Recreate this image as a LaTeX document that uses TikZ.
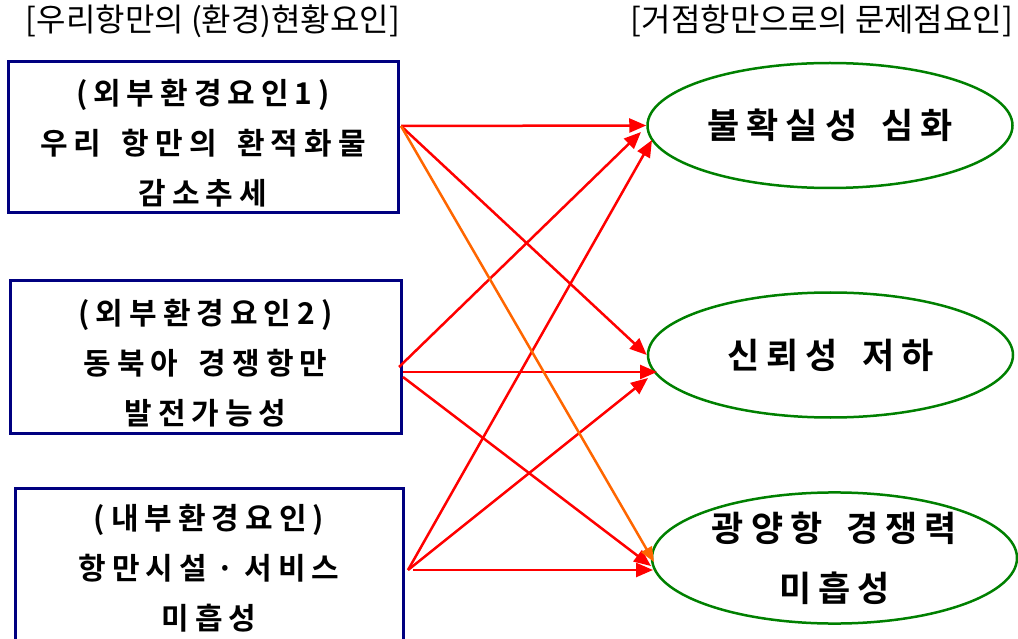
\documentclass[tikz,border=0pt]{standalone}
\usepackage{fontspec}
\usetikzlibrary{arrows.meta,shapes.geometric}
\newfontfamily\krhead{Noto Sans CJK KR}
\newfontfamily\krbox{Noto Sans CJK KR Bold}[LetterSpace=20,WordSpace=2]
\newfontfamily\krell{Noto Sans CJK KR Bold}[LetterSpace=20,WordSpace=1.6]
\definecolor{navybox}{RGB}{0,0,128}
\definecolor{greenell}{RGB}{0,128,0}
\definecolor{orangearr}{RGB}{255,102,0}
\tikzset{
  box/.style={draw=navybox, line width=3pt, fill=none, rectangle, inner sep=0pt},
  boxtext/.style={align=center, inner sep=0pt, font=\krbox\fontsize{30pt}{50pt}\selectfont},
  ell/.style={draw=greenell, line width=2.5pt, ellipse, inner sep=0pt, minimum width=365pt, minimum height=125pt, align=center, font=\krell\fontsize{35pt}{60pt}\selectfont},
  head/.style={inner sep=0pt, font=\krhead\fontsize{32pt}{38pt}\selectfont},
  arr/.style={draw=red, line width=2.5pt, -{Triangle[length=17pt,width=14pt]}},
  oarr/.style={draw=orangearr, line width=2.5pt, -{Triangle[length=15pt,width=12pt]}}
}
\begin{document}
\begin{tikzpicture}[x=1pt,y=-1pt]
\useasboundingbox (0,0) rectangle (1018,639);
\clip (0,0) rectangle (1018,639);
% headers
\node[head] (h1) at (213,21) {[우리항만의 (환경)현황요인]};
\node[head] (h2) at (822,21) {[거점항만으로의 문제점요인]};
% boxes
\node[box, minimum width=390pt, minimum height=151pt] (b1) at (203,137.5) {};
\node[boxtext] (b1t) at (203,143) {(외부환경요인1)\\우리 항만의 환적화물\\감소추세};
\node[box, minimum width=391pt, minimum height=152pt] (b2) at (205.5,357) {};
\node[boxtext] (b2t) at (205.5,363) {(외부환경요인2)\\동북아 경쟁항만\\발전가능성};
\node[box, minimum width=388pt, minimum height=162pt] (b3) at (209,569) {};
\node[boxtext] (b3t) at (209,568) {(내부환경요인)\\항만시설\hspace{10pt}·\hspace{10pt}서비스\\미흡성};
% ellipses
\node[ell] (e1) at (830,125.5) {불확실성 심화};
\node[ell] (e2) at (830.5,355) {신뢰성 저하};
\node[ell] (e3) at (834.5,558) {광양항 경쟁력\\미흡성};
% connector end points
\coordinate (s1) at (401,126);
\coordinate (s2a) at (399,367);
\coordinate (s2b) at (403,372);
\coordinate (s2c) at (403,377);
\coordinate (s3a) at (408,570);
\coordinate (s3c) at (413,570);
\coordinate (t21) at (641,132);
\coordinate (t31) at (652,140);
\coordinate (t22) at (657,372);
\coordinate (t32) at (648,378);
\coordinate (t13) at (654,562);
\coordinate (t23) at (651,566);
\coordinate (t33) at (653,570);
% arrows
\draw[arr] (s1) -- (e1.west);
\draw[arr] (s1) -- (e2.west);
\draw[arr] (s2a) -- (t21);
\draw[arr] (s2b) -- (t22);
\draw[arr] (s2c) -- (t23);
\draw[arr] (s3a) -- (t31);
\draw[arr] (s3a) -- (t32);
\draw[arr] (s3c) -- (t33);
\draw[oarr] (s1) -- (t13);
\end{tikzpicture}
\end{document}
